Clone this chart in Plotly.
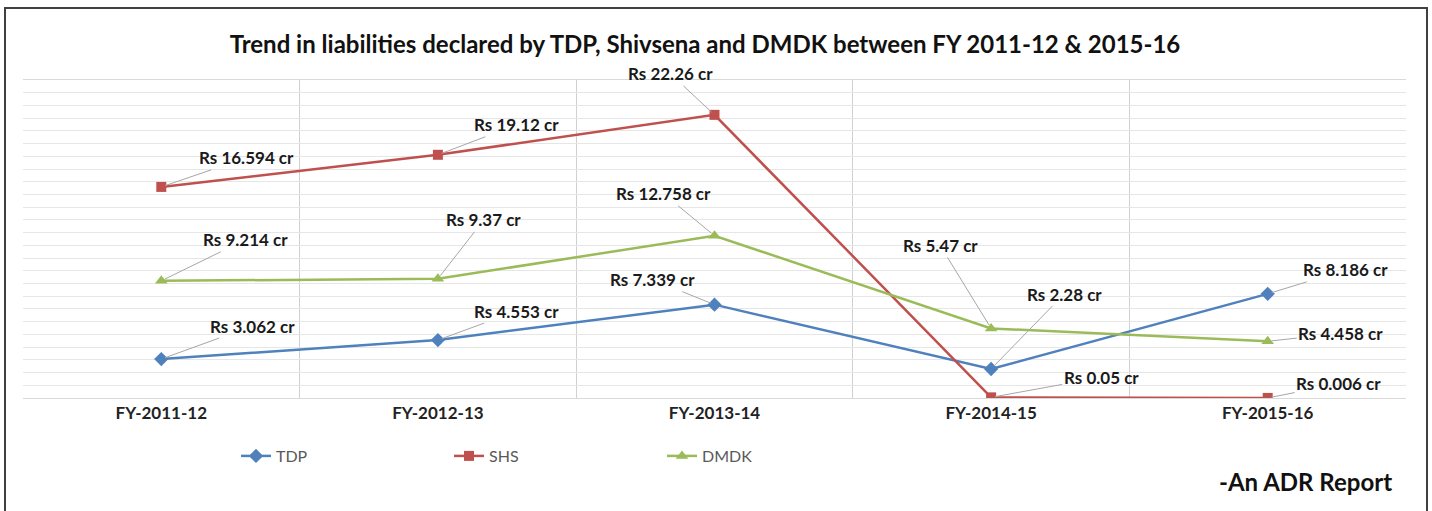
import plotly.graph_objects as go

categories = ["FY-2011-12", "FY-2012-13", "FY-2013-14", "FY-2014-15", "FY-2015-16"]
tdp = [3.062, 4.553, 7.339, 2.28, 8.186]
shs = [16.594, 19.12, 22.26, 0.05, 0.006]
dmdk = [9.214, 9.37, 12.758, 5.47, 4.458]
tdp_labels = ["Rs 3.062 cr", "Rs 4.553 cr", "Rs 7.339 cr", "Rs 2.28 cr", "Rs 8.186 cr"]
shs_labels = ["Rs 16.594 cr", "Rs 19.12 cr", "Rs 22.26 cr", "Rs 0.05 cr", "Rs 0.006 cr"]
dmdk_labels = ["Rs 9.214 cr", "Rs 9.37 cr", "Rs 12.758 cr", "Rs 5.47 cr", "Rs 4.458 cr"]

# label offsets (pixels) from each point
tdp_off = [(91, -33), (79, -29), (-62, -25), (73, -75), (78, -24)]
shs_off = [(85, -29), (79, -30), (-44, -41), (110, -20), (71, -14)]
dmdk_off = [(84, -41), (46, -59), (-51, -42), (-51, -83), (73, -8)]

W, H = 1432, 511
L, R, T, B = 23, 26, 80, 113
pw = W - L - R
ph = H - T - B
FONT = "Lato"


def px_x(x):
    return (x - L) / pw


def px_y(y):
    return 1 - (y - T) / ph


fig = go.Figure()
series = [
    ("TDP", tdp, "#4F81BD", "diamond", 11),
    ("SHS", shs, "#C0504D", "square", 10),
    ("DMDK", dmdk, "#9BBB59", "triangle-up", 11),
]
xs = list(range(len(categories)))
for name, vals, col, sym, sz in series:
    fig.add_trace(go.Scatter(
        x=xs, y=vals, name=name, mode="lines+markers",
        line=dict(color=col, width=2.5),
        marker=dict(symbol=sym, size=sz, color=col),
    ))

anns = []
for vals, labs, offs in [(tdp, tdp_labels, tdp_off), (shs, shs_labels, shs_off), (dmdk, dmdk_labels, dmdk_off)]:
    for i, (v, lab, (ax, ay)) in enumerate(zip(vals, labs, offs)):
        anns.append(dict(
            x=xs[i], y=v, xref="x", yref="y", text="<b>" + lab + "</b>", showarrow=True,
            arrowhead=0, arrowwidth=1, arrowcolor="#A6A6A6", ax=ax, ay=ay,
            standoff=4, font=dict(family=FONT, size=17, color="#1a1a1a"),
        ))

anns.append(dict(
    x=px_x(1394), y=px_y(481),
    xref="paper", yref="paper", xanchor="right", yanchor="middle",
    text="<b>-An ADR Report</b>", showarrow=False,
    font=dict(family=FONT, size=24, color="#111111"),
))

fig.add_shape(type="rect", xref="paper", yref="paper",
              x0=px_x(5), x1=px_x(1427),
              y0=px_y(516), y1=px_y(8),
              line=dict(color="#404040", width=2), layer="below")

fig.update_layout(
    width=W, height=H,
    margin=dict(l=L, r=R, t=T, b=B),
    paper_bgcolor="white", plot_bgcolor="white",
    title=dict(
        text="<b>Trend in liabilities declared by TDP, Shivsena and DMDK between FY 2011-12 & 2015-16</b>",
        x=px_x(705), xanchor="center", y=1 - 45 / H, yanchor="middle",
        xref="paper",
        font=dict(family=FONT, size=24, color="#111111"),
    ),
    xaxis=dict(
        range=[-0.5, 4.5], tickvals=xs, ticktext=["<b>" + c + "</b>" for c in categories],
        showgrid=False, zeroline=False, showline=True, linecolor="#D9D9D9",
        ticks="", tickfont=dict(family=FONT, size=17, color="#222222"),
        minor=dict(tickvals=[-0.5, 0.5, 1.5, 2.5, 3.5, 4.5], showgrid=True,
                   gridcolor="#D0D0D0", gridwidth=1, ticks=""),
        mirror=True, fixedrange=True,
    ),
    yaxis=dict(
        range=[0, 25], dtick=1, showticklabels=False, gridcolor="#E6E6E6",
        zeroline=False, showline=False, ticks="",
    ),
    legend=dict(
        orientation="h", x=px_x(236), xanchor="left",
        y=px_y(456), yanchor="middle",
        font=dict(family=FONT, size=16, color="#595959"),
        entrywidth=168, entrywidthmode="pixels", bgcolor="rgba(0,0,0,0)",
    ),
    annotations=anns,
    showlegend=True,
)

fig.write_html("out.html", config={"displayModeBar": False},
               post_script="document.body.style.margin='0';")
